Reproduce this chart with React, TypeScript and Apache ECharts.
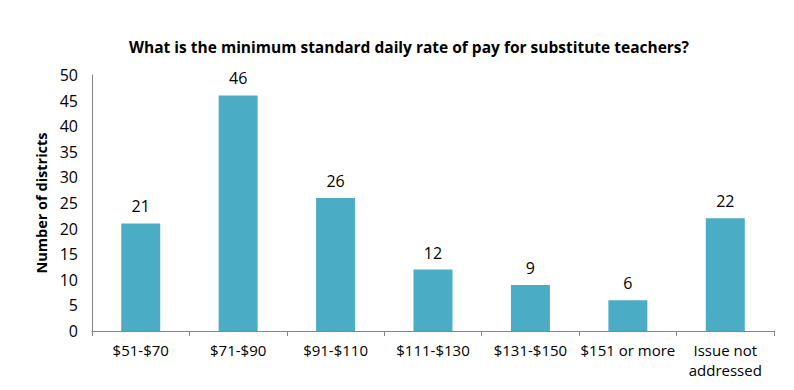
import React, { useEffect, useRef } from "react";
import * as echarts from "echarts";

const categories = ["$51-$70", "$71-$90", "$91-$110", "$111-$130", "$131-$150", "$151 or more", "Issue not\naddressed"];
const values = [21, 46, 26, 12, 9, 6, 22];
const titleText = "What is the minimum standard daily rate of pay for substitute teachers?";
const yAxisName = "Number of districts";

export default function App() {
  const ref = useRef<HTMLDivElement>(null);
  useEffect(() => {
    const chart = echarts.init(ref.current!, null, { renderer: "svg" });
    const font = "'Open Sans', 'Liberation Sans', sans-serif";
    chart.setOption({
      animation: false,
      title: {
        text: titleText,
        left: 404,
        textAlign: "center",
        top: 34,
        textStyle: { fontFamily: font, fontWeight: "bold", fontSize: 15.5, color: "#000" },
      },
      grid: { left: 92, right: 20, top: 75, bottom: 59, containLabel: false },
      xAxis: {
        type: "category",
        data: categories,
        axisLine: { lineStyle: { color: "#868686" } },
        axisTick: { show: true, length: 5, alignWithLabel: false, lineStyle: { color: "#868686" } },
        axisLabel: { color: "#000", fontFamily: font, fontSize: 15, margin: 9, interval: 0, lineHeight: 20 },
      },
      yAxis: {
        type: "value",
        min: 0,
        max: 50,
        interval: 5,
        name: yAxisName,
        nameLocation: "middle",
        nameGap: 41,
        nameTextStyle: { fontFamily: font, fontWeight: "bold", fontSize: 14.5, color: "#000" },
        axisLine: { show: true, lineStyle: { color: "#868686" } },
        axisTick: { show: false },
        splitLine: { show: false },
        axisLabel: { color: "#000", fontFamily: font, fontSize: 16, margin: 14 },
      },
      series: [
        {
          type: "bar",
          data: values,
          barWidth: 39,
          itemStyle: { color: "#4BACC6" },
          label: { show: true, position: "top", distance: 9, color: "#000", fontFamily: font, fontSize: 16 },
        },
      ],
    });
    return () => chart.dispose();
  }, []);
  return <div ref={ref} style={{ width: 794, height: 390, position: "absolute", left: 0, top: 0 }} />;
}
